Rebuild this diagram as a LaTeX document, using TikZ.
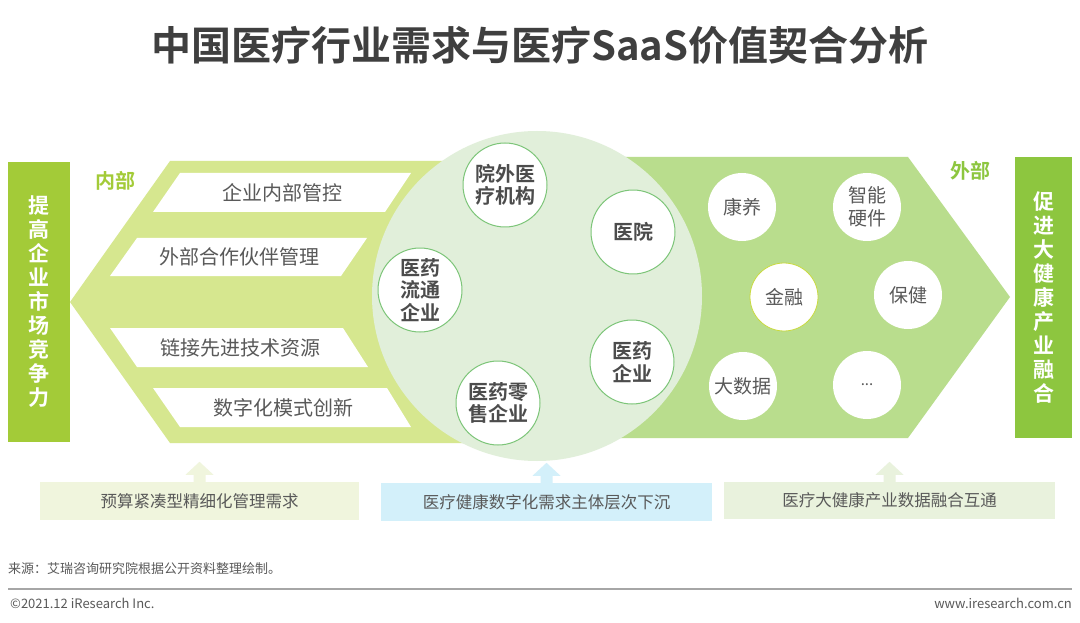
\documentclass[tikz,border=0pt]{standalone}
\usepackage{fontspec}
\setmainfont{Noto Sans CJK SC}[BoldFont={Noto Sans CJK SC Bold}]
\definecolor{barleft}{RGB}{163,203,56}
\definecolor{barright}{RGB}{141,198,63}
\definecolor{armleft}{RGB}{214,231,143}
\definecolor{armright}{RGB}{185,221,141}
\definecolor{hubfill}{RGB}{225,239,218}
\definecolor{ringgreen}{RGB}{125,197,121}
\definecolor{ringlime}{RGB}{201,218,63}
\definecolor{inkgrey}{RGB}{89,89,89}
\definecolor{titlegrey}{RGB}{63,63,63}
\definecolor{needlime}{RGB}{240,245,221}
\definecolor{needblue}{RGB}{211,240,250}
\definecolor{needgreen}{RGB}{233,242,221}
\begin{document}
\begin{tikzpicture}[x=1pt,y=-1pt,line join=round,
  sidebar/.style={fill=#1,minimum width=62pt,inner sep=0pt,align=center,text=white,font=\bfseries\fontsize{21}{24}\selectfont},
  itemtext/.style={inner sep=0pt,text=inkgrey,font=\fontsize{20}{24}\selectfont},
  org/.style={circle,fill=white,draw=ringgreen,line width=1pt,minimum size=84pt,inner sep=0pt,align=center,text=black!70,font=\bfseries\fontsize{20}{22.5}\selectfont},
  field/.style={circle,fill=white,minimum size=68pt,inner sep=0pt,align=center,text=inkgrey,font=\fontsize{19}{23}\selectfont},
  needbox/.style={fill=#1,minimum height=38pt,inner sep=0pt,text=inkgrey,font=\fontsize{16.5}{20}\selectfont},
  side/.style={text=#1,inner sep=0pt,font=\bfseries\fontsize{20}{24}\selectfont}]
\useasboundingbox[fill=white] (0,0) rectangle (1080,623);
\node[inner sep=0pt,text=titlegrey,font=\bfseries\fontsize{40}{46}\selectfont] (title) at (540,45) {中国医疗行业需求与医疗SaaS价值契合分析};
% two arms and the hub
\fill[armleft] (70,302) -- (170,161) -- (537,161) -- (537,443) -- (170,443) -- cycle;
\fill[armright] (537,157) -- (908,157) -- (1010,297) -- (908,438) -- (537,438) -- cycle;
\node[circle,fill=hubfill,minimum size=330pt,inner sep=0pt] (hub) at (537,296) {};
\node[sidebar=barleft,minimum height=280pt] (compete) at (39,302) {提\\高\\企\\业\\市\\场\\竞\\争\\力};
\node[sidebar=barright,minimum height=281pt,minimum width=57pt] (merge) at (1043.5,297.5) {促\\进\\大\\健\\康\\产\\业\\融\\合};
\node[side=barleft] (inner) at (115,181) {内部};
\node[side=barright] (outer) at (970,171) {外部};
% inner slanted bars
\fill[white] (180,173) -- (411,173) -- (385,212) -- (153,212) -- cycle;
\node[itemtext] (ctrl) at (282,193) {企业内部管控};
\fill[white] (137,238) -- (367,238) -- (341,276) -- (110,276) -- cycle;
\node[itemtext] (partner) at (239,257) {外部合作伙伴管理};
\fill[white] (110,328) -- (343,328) -- (368,367) -- (137,367) -- cycle;
\node[itemtext] (tech) at (240,348) {链接先进技术资源};
\fill[white] (153,388) -- (387,388) -- (411,427) -- (180,427) -- cycle;
\node[itemtext] (mode) at (283,408) {数字化模式创新};
% organisations in the hub
\node[org] (outhosp) at (505,185) {院外医\\疗机构};
\node[org] (hosp) at (633,232) {医院};
\node[org] (distrib) at (420,290) {医药\\流通\\企业};
\node[org] (pharma) at (632,362) {医药\\企业};
\node[org] (retail) at (498,403) {医药零\\售企业};
% outer fields
\node[field] (care) at (742,207) {康养};
\node[field] (device) at (867,207) {智能\\硬件};
\node[field,draw=ringlime,line width=0.8pt] (finance) at (784,297) {金融};
\node[field] (health) at (908,295) {保健};
\node[field] (bigdata) at (743,386) {大数据};
\node[field,font=\fontsize{15}{18}\selectfont] (more) at (867,385) {...};
% needs below
\node[needbox=needlime,minimum width=319pt] (need1) at (199.5,501) {预算紧凑型精细化管理需求};
\node[needbox=needblue,minimum width=331pt] (need2) at (546.5,502) {医疗健康数字化需求主体层次下沉};
\node[needbox=needgreen,minimum width=331pt,minimum height=37pt] (need3) at (889.5,500.5) {医疗大健康产业数据融合互通};
\fill[needlime] (need1.north) ++(-6,0) -- ++(0,-7) -- ++(-8,0) -- ++(14,-13) -- ++(14,13) -- ++(-8,0) -- ++(0,7) -- cycle;
\fill[needblue] (need2.north) ++(-6,0) -- ++(0,-7) -- ++(-8,0) -- ++(14,-13) -- ++(14,13) -- ++(-8,0) -- ++(0,7) -- cycle;
\fill[needgreen] (need3.north) ++(-6,0) -- ++(0,-7) -- ++(-8,0) -- ++(14,-13) -- ++(14,13) -- ++(-8,0) -- ++(0,7) -- cycle;
% footer
\node[anchor=west,inner sep=0pt,text=inkgrey,font=\fontsize{13}{15}\selectfont] (source) at (8,569) {来源：艾瑞咨询研究院根据公开资料整理绘制。};
\coordinate (ruleL) at (8,589);
\coordinate (ruleR) at (1072,589);
\draw[black!35,line width=1.5pt] (ruleL) -- (ruleR);
\node[anchor=west,inner sep=0pt,text=inkgrey,font=\fontsize{13}{15}\selectfont] (copy) at (10,603) {©2021.12 iResearch Inc.};
\node[anchor=east,inner sep=0pt,text=inkgrey,font=\fontsize{13}{15}\selectfont] (web) at (1072,603) {www.iresearch.com.cn};
\end{tikzpicture}
\end{document}
